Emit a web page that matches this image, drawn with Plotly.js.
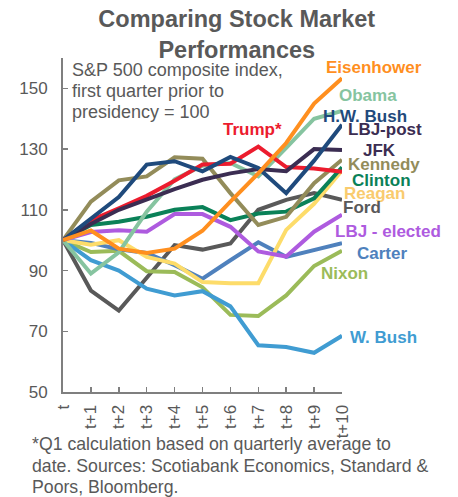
<!DOCTYPE html>
<html>
<head>
<meta charset="utf-8">
<script src="https://cdn.plot.ly/plotly-3.0.1.min.js"></script>
<style>html,body{margin:0;padding:0;background:#fff;}#chart{width:458px;height:497px;}</style>
</head>
<body>
<div id="chart"></div>
<script>
// Quarters since inauguration (t = first quarter prior to presidency)
var periods = ['t','t+1','t+2','t+3','t+4','t+5','t+6','t+7','t+8','t+9','t+10'];

// S&P 500 index, first quarter prior to presidency = 100
var eisenhower = [100,103.2,97.2,95.8,97.2,103.1,112.7,122,132,145,153.3];
var obama      = [100,89,96,109.4,120,124.5,125.4,121,130.4,140,142.6];
var hwBush     = [100,107.2,114.2,124.9,126,122.7,127.4,123.8,115.5,126.2,138];
var jfk        = [100,105.3,110,113.5,116.8,119.9,122,123.4,122.7,130,129.7];
var trump      = [100,106.6,110.5,114.6,119.6,124.9,125.2,130.8,124.1,123.6,122.5];
var kennedy    = [100,112.7,119.7,121,127.3,126.8,115.5,105,107.7,118.8,126.5];
var clinton    = [100,105,106.1,107.7,110,110.9,106.6,108.8,109.4,113.8,124];
var reagan     = [100,98.5,100,94.5,92.3,86.2,85.8,85.8,103.4,112,123];
var ford       = [100,83.4,76.8,87.6,98.4,96.9,98.9,110,113.3,115.5,113.3];
var lbjElected = [100,102.7,103.3,102.8,108.6,108.6,104.4,96.3,94.6,102.8,108.4];
var carter     = [100,99.1,97,95.8,91.8,87.3,93.4,99.3,94.5,96.6,99];
var nixon      = [100,96.1,96.5,89.8,89.5,84.5,75.4,75,81.8,91.5,96.5];
var wBush      = [100,93.4,90,84,81.8,83.2,78.2,65.4,64.8,62.9,68.5];

// Label texts
var seriesNames = ['Ford','Nixon','W. Bush','Carter','Reagan','LBJ - elected','Clinton','Kennedy','Obama','Trump*','JFK','H.W. Bush','Eisenhower'];
var seriesValues = [ford,nixon,wBush,carter,reagan,lbjElected,clinton,kennedy,obama,trump,jfk,hwBush,eisenhower];
var seriesColors = ['#595959','#9BBB59','#409CD2','#4F81BD','#FDDC6A','#AE5BDF','#0A8158','#938C5A','#86C4A0','#EC1C2E','#3B2D52','#1F4A7C','#FF8F1F'];
var noteLines = ['S&P 500 composite index,','first quarter prior to','presidency = 100'];
var footLines = ['*Q1 calculation based on quarterly average to','date. Sources: Scotiabank Economics, Standard &amp;','Poors, Bloomberg.'];

var xIdx = periods.map(function(_, i){ return i; });

var traces = seriesValues.map(function(vals, i){
  return {
    type: 'scatter', mode: 'lines', name: seriesNames[i],
    x: xIdx, y: vals,
    line: {color: seriesColors[i], width: 4},
    hoverinfo: 'name+y'
  };
});

var FONT = 'Liberation Sans, Arial, sans-serif';
var GREY = '#595959';
var XR = [0, 10], YR = [50, 160];

// label placements (in axis units, converted to paper so they can sit outside the plot)
var labels = [
  {t:'Eisenhower', x:11.15, y:157.0, c:'#FF8F1F'},
  {t:'Obama', x:10.93, y:147.8, c:'#86C4A0'},
  {t:'H.W. Bush', x:10.82, y:140.6, c:'#1F4A7C'},
  {t:'LBJ-post', x:11.54, y:136.3, c:'#3B2D52'},
  {t:'Trump*', x:6.81, y:136.4, c:'#EC1C2E'},
  {t:'JFK', x:11.34, y:129.4, c:'#3B2D52'},
  {t:'Kennedy', x:11.49, y:124.8, c:'#938C5A'},
  {t:'Clinton', x:11.43, y:119.8, c:'#0A8158'},
  {t:'Reagan', x:11.15, y:115.4, c:'#F9CB6E'},
  {t:'Ford', x:10.73, y:110.6, c:'#595959'},
  {t:'LBJ - elected', x:11.65, y:103.0, c:'#AE5BDF'},
  {t:'Carter', x:11.45, y:95.6, c:'#4F81BD'},
  {t:'Nixon', x:10.09, y:88.9, c:'#9BBB59'},
  {t:'W. Bush', x:11.47, y:67.9, c:'#409CD2'}
];

var annotations = labels.map(function(l){
  return {text: '<b>'+l.t+'</b>',
          x: (l.x - XR[0])/(XR[1]-XR[0]), y: (l.y - YR[0])/(YR[1]-YR[0]),
          xref:'paper', yref:'paper', borderpad:0,
          showarrow:false, xanchor:'center', yanchor:'middle',
          font:{family:FONT, size:17, color:l.c}};
});

// plot area: top 58px, height 334px
function pyp(px){ return (392 - px)/334; }
var noteY = [70, 91, 112];
noteLines.forEach(function(t, i){
  annotations.push({text:t, xref:'paper', yref:'paper', x:0.03, y:pyp(noteY[i]),
    xanchor:'left', yanchor:'middle', showarrow:false, borderpad:0,
    font:{family:FONT, size:18, color:GREY}});
});
var footY = [444, 465.5, 486.5];
footLines.forEach(function(t, i){
  annotations.push({text:t, xref:'paper', yref:'paper', x:-0.115, y:pyp(footY[i]),
    xanchor:'left', yanchor:'middle', showarrow:false, borderpad:0,
    font:{family:FONT, size:17.7, color:GREY}});
});

var layout = {
  width: 458, height: 497,
  margin: {l:63, r:116, t:58, b:105},
  paper_bgcolor:'#ffffff', plot_bgcolor:'#ffffff',
  showlegend:false,
  font:{family:FONT, color:GREY},
  title: {text:'<b>Comparing Stock Market<br>Performances</b>', x:0.517, xref:'container', xanchor:'center',
          y:0.945, yref:'container', yanchor:'top', font:{family:FONT, size:23.5, color:GREY}},
  xaxis: {range:XR, tickmode:'array', tickvals:xIdx, ticktext:periods, tickangle:-90,
          ticks:'inside', ticklen:5, tickwidth:1.5, tickcolor:'#7F7F7F',
          showline:true, linecolor:'#7F7F7F', linewidth:2, showgrid:false, zeroline:false,
          ticklabelstandoff:4,
          tickfont:{family:FONT, size:17, color:GREY}, fixedrange:true},
  yaxis: {range:YR, tick0:50, dtick:20, ticks:'inside', ticklen:5, tickwidth:1.5, tickcolor:'#7F7F7F',
          showline:true, linecolor:'#7F7F7F', linewidth:2, showgrid:false, zeroline:false,
          ticklabelstandoff:10,
          tickfont:{family:FONT, size:17, color:GREY}, fixedrange:true},
  annotations: annotations
};

Plotly.newPlot('chart', traces, layout, {displayModeBar:false, staticPlot:true});
</script>
</body>
</html>
